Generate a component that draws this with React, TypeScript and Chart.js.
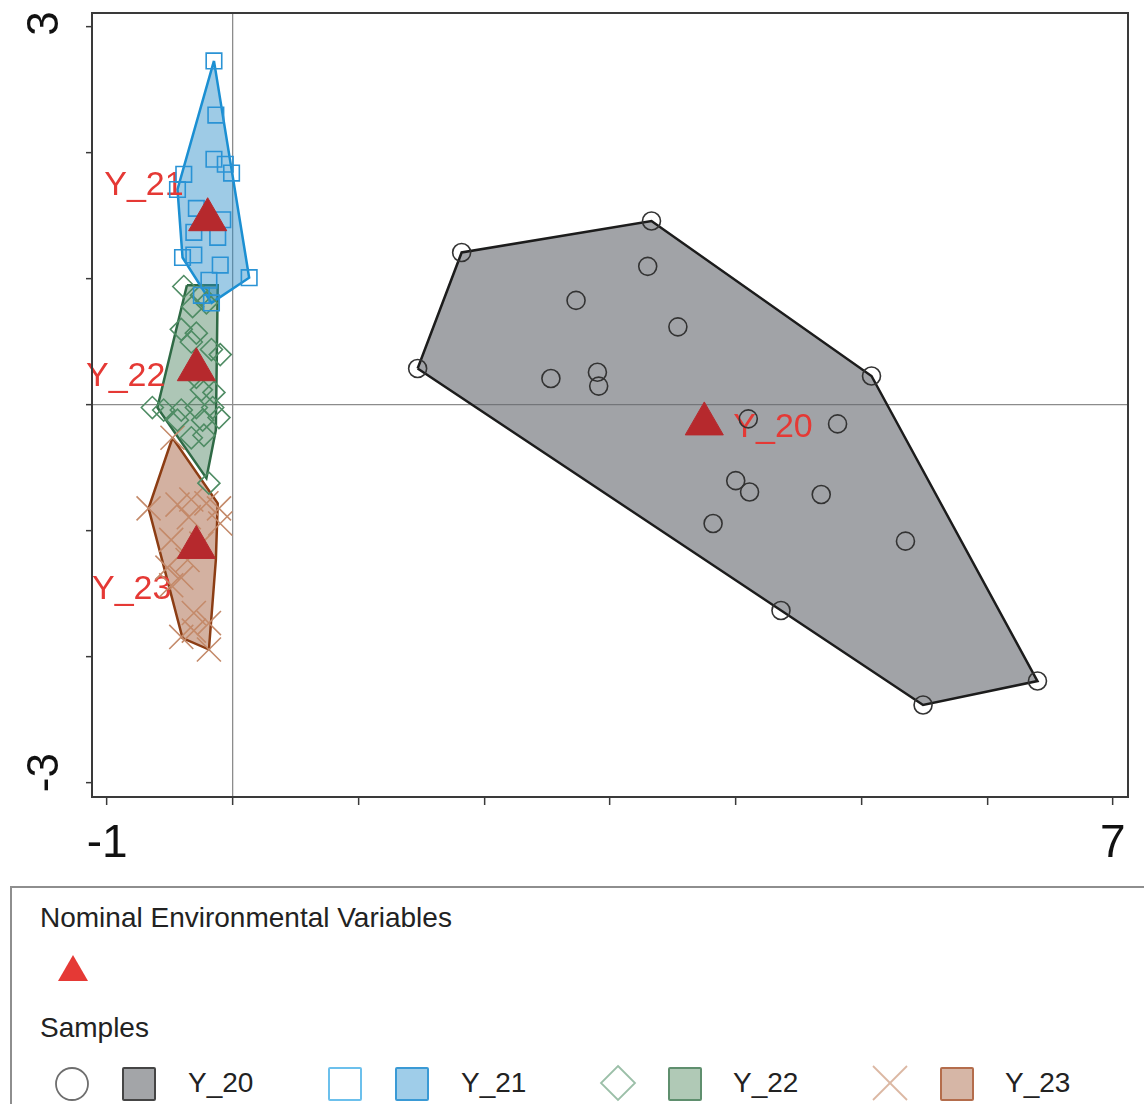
import React, { useEffect, useRef } from 'react';
import { Chart, registerables } from 'chart.js';

Chart.register(...registerables);

const FONT = '"Liberation Sans", Arial, sans-serif';

// ---- axis ticks ----
const xTickValues = [-1, 0, 1, 2, 3, 4, 5, 6, 7];
const yTickValues = [-3, -2, -1, 0, 1, 2, 3];
const xLabeledTicks = [-1, 7];
const yLabeledTicks = [3, -3];
const X_MIN = -1.12;
const X_MAX = 7.12;
const Y_MIN = -3.11;
const Y_MAX = 3.11;

// ---- groups ----
const groupNames = ['Y_20', 'Y_21', 'Y_22', 'Y_23'];

// ---- samples ----
const y20X = [1.82, 3.33, 3.30, 2.73, 3.54, 1.47, 2.53, 2.90, 2.91, 5.08, 4.10, 4.81, 4.00, 4.11, 4.68, 3.82, 5.35, 4.36, 5.49, 6.40];
const y20Y = [1.21, 1.46, 1.10, 0.83, 0.62, 0.29, 0.21, 0.26, 0.15, 0.23, -0.11, -0.15, -0.60, -0.69, -0.71, -0.94, -1.08, -1.63, -2.38, -2.19];

const y21X = [-0.15, -0.135, -0.15, -0.06, -0.01, -0.39, -0.44, -0.29, -0.08, -0.31, -0.12, -0.40, -0.31, -0.10, 0.13, -0.19, -0.17, -0.25];
const y21Y = [2.73, 2.30, 1.95, 1.91, 1.84, 1.83, 1.71, 1.56, 1.47, 1.37, 1.33, 1.17, 1.19, 1.11, 1.01, 0.99, 0.81, 0.87];

const y22X = [-0.39, -0.25, -0.32, -0.21, -0.41, -0.29, -0.33, -0.17, -0.10, -0.29, -0.25, -0.15, -0.64, -0.55, -0.41, -0.29, -0.16, -0.11, -0.44, -0.24, -0.33, -0.23, -0.19];
const y22Y = [0.94, 0.87, 0.78, 0.81, 0.60, 0.57, 0.50, 0.44, 0.40, 0.22, 0.12, 0.10, -0.02, -0.04, -0.04, -0.02, -0.02, -0.10, -0.12, -0.12, -0.26, -0.24, -0.62];

const y23X = [-0.48, -0.67, -0.44, -0.33, -0.21, -0.11, -0.10, -0.35, -0.49, -0.25, -0.36, -0.52, -0.41, -0.49, -0.31, -0.19, -0.41, -0.19, -0.31];
const y23Y = [-0.26, -0.82, -0.79, -0.75, -0.78, -0.82, -0.94, -0.89, -1.07, -1.10, -1.23, -1.29, -1.37, -1.43, -1.65, -1.73, -1.84, -1.94, -1.79];

// ---- envelopes (hull vertices) ----
const hull20X = [1.47, 1.82, 3.33, 5.08, 6.40, 5.49];
const hull20Y = [0.29, 1.21, 1.46, 0.23, -2.19, -2.38];
const hull21X = [-0.15, 0.13, -0.17, -0.40, -0.44];
const hull21Y = [2.73, 1.01, 0.81, 1.17, 1.71];
const hull22X = [-0.365, -0.12, -0.135, -0.21, -0.60];
const hull22Y = [0.95, 0.95, -0.20, -0.58, -0.02];
const hull23X = [-0.48, -0.12, -0.135, -0.19, -0.40, -0.67];
const hull23Y = [-0.26, -0.78, -1.23, -1.94, -1.85, -0.82];

// ---- nominal environmental variables (centroids) ----
const centroidX = [3.75, -0.20, -0.29, -0.29];
const centroidY = [-0.15, 1.47, 0.28, -1.13];

// ---- styles ----
const hullStroke = ['#1c1c1c', '#1b8fd2', '#2f6a45', '#8c3d14'];
const hullFill = ['rgba(98,102,108,0.6)', 'rgba(40,140,200,0.45)', 'rgba(60,120,80,0.42)', 'rgba(150,70,30,0.42)'];
const markerStroke = ['#333333', '#2a93d5', '#4f8c64', '#c48a6a'];
const markerStyle = ['circle', 'rect', 'rectRot', 'crossRot'];
const markerRadius = [9, 11, 11, 17];
// label anchor offsets in pixels from the triangle: [dx, dy, align]
const labelOffsets: [number, number, CanvasTextAlign][] = [
  [29, 4, 'left'],
  [-24, -34, 'right'],
  [-31, 7, 'right'],
  [-25, 42, 'right'],
];

const pts = (xs: number[], ys: number[]) => xs.map((x, i) => ({ x, y: ys[i] }));
const closed = (xs: number[], ys: number[]) => {
  const p = pts(xs, ys);
  return [...p, p[0]];
};

const sampleXs = [y20X, y21X, y22X, y23X];
const sampleYs = [y20Y, y21Y, y22Y, y23Y];
const hullXs = [hull20X, hull21X, hull22X, hull23X];
const hullYs = [hull20Y, hull21Y, hull22Y, hull23Y];

const annotPlugin = {
  id: 'annot',
  afterDatasetDraw(chart: any, args: any) {
    if (args.index !== 0) return;
    const { ctx, scales } = chart;
    ctx.save();
    ctx.fillStyle = '#e53935';
    ctx.font = `34px ${FONT}`;
    ctx.textBaseline = 'middle';
    groupNames.forEach((name, i) => {
      const px = scales.x.getPixelForValue(centroidX[i]);
      const py = scales.y.getPixelForValue(centroidY[i]);
      const [dx, dy, align] = labelOffsets[i];
      ctx.textAlign = align;
      ctx.fillText(name, px + dx, py + dy);
    });
    ctx.restore();
  },
  afterDraw(chart: any) {
    const { ctx, chartArea: a, scales } = chart;
    ctx.save();
    ctx.strokeStyle = '#3a3a3a';
    ctx.lineWidth = 2;
    ctx.strokeRect(a.left, a.top, a.right - a.left, a.bottom - a.top);
    ctx.fillStyle = '#111';
    ctx.font = `44px ${FONT}`;
    ctx.textAlign = 'left';
    ctx.textBaseline = 'middle';
    for (const v of yLabeledTicks) {
      const py = scales.y.getPixelForValue(v);
      ctx.save();
      ctx.translate(46, py + 9);
      ctx.rotate(-Math.PI / 2);
      ctx.fillText(String(v), 0, 0);
      ctx.restore();
    }
    ctx.restore();
  },
};

const zeroPad = (s: any) => {
  s.paddingLeft = 0;
  s.paddingRight = 0;
  s.paddingTop = 0;
  s.paddingBottom = 0;
};

function ChartCanvas() {
  const ref = useRef<HTMLCanvasElement | null>(null);
  useEffect(() => {
    if (!ref.current) return;
    const hullSets = groupNames.map((name, i) => ({
      type: 'line' as const,
      label: name + ' envelope',
      data: closed(hullXs[i], hullYs[i]),
      borderColor: hullStroke[i],
      backgroundColor: hullFill[i],
      borderWidth: 2.5,
      fill: 'shape',
      pointRadius: 0,
      tension: 0,
      order: 3,
    }));
    const sampleSets = groupNames.map((name, i) => ({
      type: 'scatter' as const,
      label: name,
      data: pts(sampleXs[i], sampleYs[i]),
      pointStyle: markerStyle[i],
      pointRadius: markerRadius[i],
      borderColor: markerStroke[i],
      backgroundColor: 'rgba(0,0,0,0)',
      pointBorderWidth: 1.6,
      order: 2,
    }));
    const triSet = {
      type: 'scatter' as const,
      label: 'Nominal Environmental Variables',
      data: pts(centroidX, centroidY),
      pointStyle: 'triangle',
      pointRadius: 22,
      backgroundColor: '#b6292d',
      borderColor: '#b6292d',
      pointBorderWidth: 1,
      order: 1,
    };
    const chart = new Chart(ref.current, {
      type: 'scatter',
      data: { datasets: [...hullSets, ...sampleSets, triSet] as any },
      options: {
        responsive: false,
        animation: false,
        devicePixelRatio: 1,
        events: [],
        layout: { autoPadding: false, padding: { top: 13, right: 16, left: 0, bottom: 0 } },
        plugins: { legend: { display: false }, tooltip: { enabled: false } },
        scales: {
          x: {
            type: 'linear',
            min: X_MIN,
            max: X_MAX,
            afterBuildTicks: (s: any) => {
              s.ticks = xTickValues.map((v) => ({ value: v }));
            },
            afterFit: (s: any) => {
              s.height = 83;
              zeroPad(s);
            },
            border: { display: false },
            grid: {
              color: (c: any) => (c.tick && c.tick.value === 0 ? '#8c8c8c' : 'rgba(0,0,0,0)'),
              lineWidth: 1.3,
              tickColor: '#3a3a3a',
              tickLength: 8,
              tickWidth: 1.5,
            },
            ticks: {
              autoSkip: false,
              maxRotation: 0,
              minRotation: 0,
              padding: 12,
              color: '#111',
              font: { size: 46, family: FONT },
              callback: (v: any) => (xLabeledTicks.includes(Number(v)) ? String(v) : ''),
            },
          },
          y: {
            type: 'linear',
            min: Y_MIN,
            max: Y_MAX,
            afterBuildTicks: (s: any) => {
              s.ticks = yTickValues.map((v) => ({ value: v }));
            },
            afterFit: (s: any) => {
              s.width = 92;
              zeroPad(s);
            },
            border: { display: false },
            grid: {
              color: (c: any) => (c.tick && c.tick.value === 0 ? '#8c8c8c' : 'rgba(0,0,0,0)'),
              lineWidth: 1.3,
              tickColor: '#3a3a3a',
              tickLength: 6,
              tickWidth: 1.5,
            },
            ticks: { display: false },
          },
        },
      } as any,
      plugins: [annotPlugin],
    });
    return () => chart.destroy();
  }, []);
  return <canvas ref={ref} width={1144} height={880} style={{ position: 'absolute', left: 0, top: 0 }} />;
}

const abs = (left: number, top: number, extra: any = {}) => ({ position: 'absolute' as const, left, top, ...extra });
const textStyle = { fontSize: 28, lineHeight: '32px', color: '#222', whiteSpace: 'nowrap' as const };
const sq = (left: number, bg: string, border: string) => (
  <div style={abs(left, 1067, { width: 30, height: 30, background: bg, border: `2px solid ${border}`, borderRadius: 2 })} />
);

function Legend() {
  return (
    <>
      <div style={abs(10, 886, { width: 1200, height: 300, border: '2px solid #8e8e8e', boxSizing: 'border-box' })} />
      <div style={abs(40, 902, textStyle)}>Nominal Environmental Variables</div>
      <div style={abs(58, 955, { width: 0, height: 0, borderLeft: '15px solid transparent', borderRight: '15px solid transparent', borderBottom: '26px solid #e53935' })} />
      <div style={abs(40, 1012, textStyle)}>Samples</div>

      <svg style={abs(53, 1065)} width={38} height={38}>
        <circle cx={19} cy={19} r={16} fill="#fff" stroke="#6e6e6e" strokeWidth={1.8} />
      </svg>
      {sq(122, '#a3a5a8', '#454545')}
      <div style={abs(188, 1067, textStyle)}>Y_20</div>

      {sq(328, '#ffffff', '#6cc0ec')}
      {sq(395, '#9fcde9', '#3a9ad5')}
      <div style={abs(461, 1067, textStyle)}>Y_21</div>

      <svg style={abs(598, 1063)} width={40} height={40}>
        <polygon points="20,3 37,20 20,37 3,20" fill="#fff" stroke="#9bbfa8" strokeWidth={1.8} />
      </svg>
      {sq(668, '#b0c9b6', '#5f8f6e')}
      <div style={abs(733, 1067, textStyle)}>Y_22</div>

      <svg style={abs(871, 1064)} width={38} height={38}>
        <line x1={2} y1={2} x2={36} y2={36} stroke="#dbb7a2" strokeWidth={1.8} />
        <line x1={36} y1={2} x2={2} y2={36} stroke="#dbb7a2" strokeWidth={1.8} />
      </svg>
      {sq(940, '#d6b6a6', '#b46d4c')}
      <div style={abs(1005, 1067, textStyle)}>Y_23</div>
    </>
  );
}

export default function App() {
  useEffect(() => {
    document.body.style.margin = '0';
  }, []);
  return (
    <div style={{ position: 'relative', width: 1144, height: 1104, overflow: 'hidden', fontFamily: FONT, background: '#fff' }}>
      <ChartCanvas />
      <Legend />
    </div>
  );
}
